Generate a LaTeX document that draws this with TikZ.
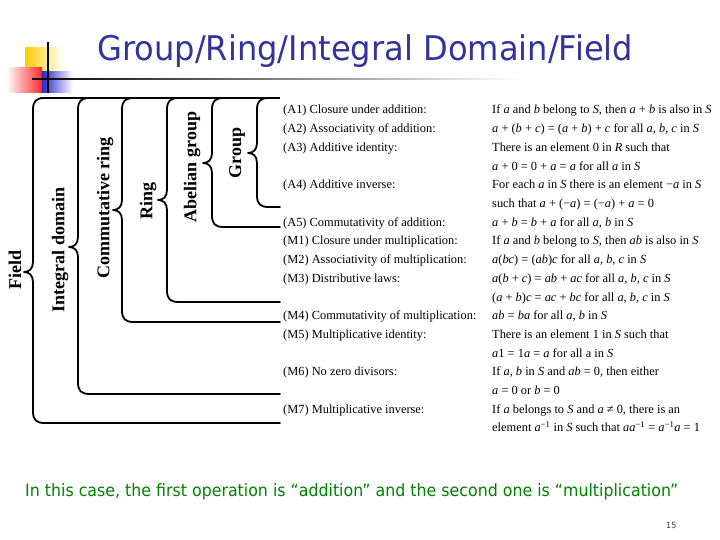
\documentclass[tikz,border=0pt]{standalone}
\usepackage{fontspec}
\setmainfont{Liberation Serif}
\newfontfamily\slidefont{DejaVu Sans}[FakeStretch=0.945]
\newfontfamily\notefont{DejaVu Sans}[FakeStretch=0.93]
\usetikzlibrary{positioning}
\definecolor{titlenavy}{RGB}{51,51,153}
\definecolor{notegreen}{RGB}{0,128,0}
\definecolor{logoyellow}{RGB}{255,204,0}
\definecolor{logored}{RGB}{255,40,40}
\definecolor{logoblue}{RGB}{40,40,200}
\newcommand\mv[1]{\textit{#1}}
\tikzset{
  axiom/.style={anchor=base west, inner sep=0pt, font=\fontsize{12.4bp}{14bp}\selectfont},
  kind/.style={rotate=90, inner sep=0pt, font=\fontsize{18bp}{20bp}\selectfont\bfseries},
  bracket/.style={line width=1.8bp, line join=round, line cap=round}
}

\begin{document}
\begin{tikzpicture}[x=1bp, y=-1bp]
  \useasboundingbox (0,0) rectangle (720,540);
  \shade[left color=logoyellow, middle color=logoyellow, right color=white] (25,48) rectangle (63,72);
  \shade[left color=white, right color=logored] (6,68) rectangle (42,93);
  \shade[left color=logoblue, right color=white] (42,72) rectangle (73,93);
  \draw[line width=1.5bp] (48,42) -- (48,93);
  \shade[left color=black, middle color=black!70, right color=white] (32,78.2) rectangle (520,79.8);
  \node[font=\slidefont\fontsize{34bp}{36bp}\selectfont, text=titlenavy, anchor=base west, inner sep=0pt] (title) at (97,61) {Group/Ring/Integral Domain/Field};
  \draw[line width=2.4bp] (40,98) -- (280,98);
  \foreach \x/\m/\b in {33/272/423, 78/247/394, 122/210/322, 167/200/302, 212/163/227, 257/153/207}
    \draw[bracket] (\x+12,98) .. controls (\x+3,98) and (\x,101) .. (\x,110) -- (\x,\m-10)
      .. controls (\x,\m-3) and (\x-4,\m) .. (\x-9,\m) .. controls (\x-4,\m) and (\x,\m+3) .. (\x,\m+10)
      -- (\x,\b-12) .. controls (\x,\b-3) and (\x+3,\b) .. (\x+12,\b) -- (280,\b);
  \node[kind] (field) at (15,270) {Field};
  \node[kind] (intdom) at (60,250) {Integral domain};
  \node[kind] (commring) at (105,208) {Commutative ring};
  \node[kind] (ring) at (148,201) {Ring};
  \node[kind] (abelian) at (192,167) {Abelian group};
  \node[kind] (group) at (237,153) {Group};
  \foreach \k/\t in {1/{(A1) Closure under addition:}, 2/{(A2) Associativity of addition:},
      3/{(A3) Additive identity:}, 5/{(A4) Additive inverse:}, 7/{(A5) Commutativity of addition:},
      8/{(M1) Closure under multiplication:}, 9/{(M2) Associativity of multiplication:},
      10/{(M3) Distributive laws:}, 12/{(M4) Commutativity of multiplication:},
      13/{(M5) Multiplicative identity:}, 15/{(M6) No zero divisors:}, 17/{(M7) Multiplicative inverse:}}
    \node[axiom] (ax\k) at (283,{114+(\k-1)*18.7}) {\t};
  \foreach \t [count=\i] in {
      {If \mv{a} and \mv{b} belong to \mv{S}, then \mv{a} + \mv{b} is also in \mv{S}},
      {\mv{a} + (\mv{b} + \mv{c}) = (\mv{a} + \mv{b}) + \mv{c} for all \mv{a}, \mv{b}, \mv{c} in \mv{S}},
      {There is an element 0 in \mv{R} such that},
      {\mv{a} + 0 = 0 + \mv{a} = \mv{a} for all \mv{a} in \mv{S}},
      {For each \mv{a} in \mv{S} there is an element −\mv{a} in \mv{S}},
      {such that \mv{a} + (−\mv{a}) = (−\mv{a}) + \mv{a} = 0},
      {\mv{a} + \mv{b} = \mv{b} + \mv{a} for all \mv{a}, \mv{b} in \mv{S}},
      {If \mv{a} and \mv{b} belong to \mv{S}, then \mv{ab} is also in \mv{S}},
      {\mv{a}(\mv{bc}) = (\mv{ab})\mv{c} for all \mv{a}, \mv{b}, \mv{c} in \mv{S}},
      {\mv{a}(\mv{b} + \mv{c}) = \mv{ab} + \mv{ac} for all \mv{a}, \mv{b}, \mv{c} in \mv{S}},
      {(\mv{a} + \mv{b})\mv{c} = \mv{ac} + \mv{bc} for all \mv{a}, \mv{b}, \mv{c} in \mv{S}},
      {\mv{ab} = \mv{ba} for all \mv{a}, \mv{b} in \mv{S}},
      {There is an element 1 in \mv{S} such that},
      {\mv{a}1 = 1\mv{a} = \mv{a} for all a in \mv{S}},
      {If \mv{a}, \mv{b} in \mv{S} and \mv{ab} = 0, then either},
      {\mv{a} = 0 or \mv{b} = 0},
      {If \mv{a} belongs to \mv{S} and \mv{a} ≠ 0, there is an},
      {element \mv{a}\textsuperscript{−1} in \mv{S} such that \mv{aa}\textsuperscript{−1} = \mv{a}\textsuperscript{−1}\mv{a} = 1}}
    \node[axiom] (rule\i) at (492,{114+(\i-1)*18.7}) {\t};
  \node[font=\notefont\fontsize{17bp}{19bp}\selectfont, text=notegreen, anchor=base west, inner sep=0pt] (note) at (25,496) {In this case, the first operation is “addition” and the second one is “multiplication”};
  \node[font=\slidefont\fontsize{8.5bp}{10bp}\selectfont, text=black!75, anchor=base west, inner sep=0pt] (pageno) at (666,528) {15};
\end{tikzpicture}
\end{document}
